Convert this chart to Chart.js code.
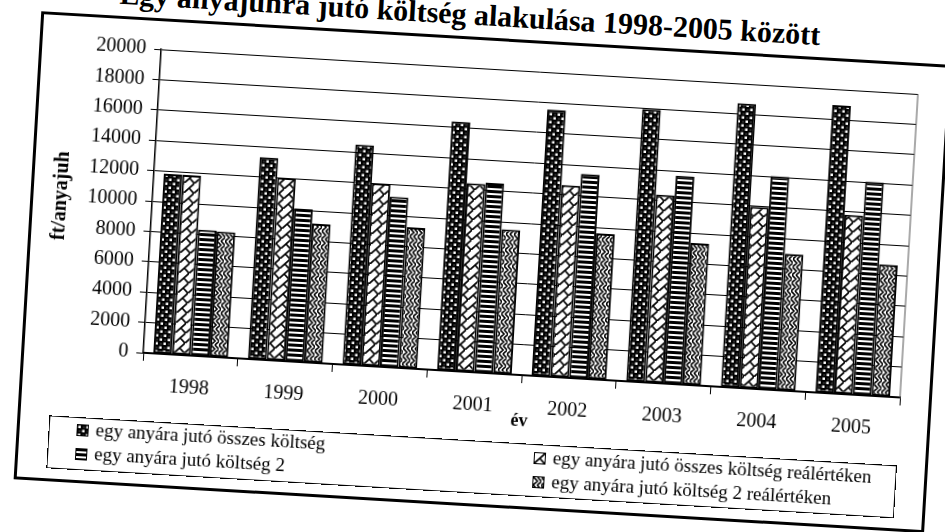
<!DOCTYPE html>
<html>
<head>
<meta charset="utf-8">
<script src="https://cdn.jsdelivr.net/npm/chart.js@4.4.1/dist/chart.umd.min.js"></script>
<style>
    html, body { margin: 0; padding: 0; background: #fff; overflow: hidden; }
    #page {
        position: relative; width: 945px; height: 532px;
        transform: rotate(3.38deg); transform-origin: 472px 266px;
        font-family: "Liberation Serif", "DejaVu Serif", serif;
    }
    #frame {
        position: absolute; left: 27px; top: 37px; width: 912px; height: 469px;
        border: 3px solid #000; box-sizing: border-box;
    }
    #title {
        position: absolute; right: 139px; top: -2px; height: 34px; line-height: 34px;
        font-size: 30px; font-weight: bold; color: #000; white-space: nowrap;
    }
    #chart { position: absolute; left: 0; top: 0; }
    #legend {
        position: absolute; left: 59px; top: 440px; width: 849px; height: 53px;
        border: 1px solid #000; box-sizing: border-box; background: #fff;
    }
    .item { position: absolute; height: 20px; line-height: 20px; font-size: 19px; color: #000; white-space: nowrap; }
    .sw {
        display: inline-block; width: 10px; height: 10px; border: 1.5px solid #000;
        margin-right: 7px; vertical-align: -1px;
    }
</style>
</head>
<body>
<div id="page">
    <div id="frame"></div>
    <div id="title">Egy anyajuhra jutó költség alakulása 1998-2005 között</div>
    <canvas id="chart" width="945" height="532"></canvas>
    <div id="legend"></div>
</div>
<script>
const years = ['1998', '1999', '2000', '2001', '2002', '2003', '2004', '2005'];
const osszes = [11850, 13300, 14500, 16400, 17550, 17950, 18700, 18950];
const osszesReal = [11850, 12040, 12040, 12400, 12650, 12380, 11950, 11800];
const koltseg2 = [8300, 10070, 11220, 12500, 13450, 13700, 14050, 14050];
const koltseg2Real = [8250, 9150, 9270, 9500, 9600, 9350, 9000, 8670];
const seriesNames = [
    'egy anyára jutó összes költség',
    'egy anyára jutó összes költség reálértéken',
    'egy anyára jutó költség 2',
    'egy anyára jutó költség 2 reálértéken'
];

const FONT = '"Liberation Serif", "DejaVu Serif", serif';

// small black & white tiles, like the old printer hatches
function tile(kind) {
    const c = document.createElement('canvas');
    const g = c.getContext('2d');
    if (kind === 'dots') {
        c.width = 8; c.height = 8;
        g.fillStyle = '#000'; g.fillRect(0, 0, 8, 8);
        g.fillStyle = '#fff';
        g.fillRect(0.5, 0.5, 2.5, 2.5); g.fillRect(4.5, 4.5, 2.5, 2.5);
        g.fillStyle = '#999';
        g.fillRect(5.5, 1.5, 1, 1); g.fillRect(1.5, 5.5, 1, 1);
    } else if (kind === 'diag') {
        c.width = 10; c.height = 10;
        g.fillStyle = '#fff'; g.fillRect(0, 0, 10, 10);
        g.strokeStyle = '#000'; g.lineWidth = 1.7;
        g.beginPath();
        g.moveTo(-1, 11); g.lineTo(11, -1);
        g.moveTo(5, 5); g.lineTo(10, 10);
        g.stroke();
    } else if (kind === 'horiz') {
        c.width = 6; c.height = 5;
        g.fillStyle = '#000'; g.fillRect(0, 0, 6, 5);
        g.fillStyle = '#fff'; g.fillRect(0, 2, 6, 2);
    } else {
        c.width = 8; c.height = 8;
        g.fillStyle = '#fff'; g.fillRect(0, 0, 8, 8);
        g.strokeStyle = '#000'; g.lineWidth = 1.6;
        g.beginPath();
        g.moveTo(0, 0); g.lineTo(4, 4); g.lineTo(0, 8);
        g.moveTo(4, 0); g.lineTo(8, 4); g.lineTo(4, 8);
        g.stroke();
    }
    return c;
}

const kinds = ['dots', 'diag', 'horiz', 'zig'];
const tiles = kinds.map(tile);
const ctx = document.getElementById('chart').getContext('2d');
const patterns = tiles.map(t => ctx.createPattern(t, 'repeat'));

// legend, two columns like in the original
const legend = document.getElementById('legend');
const legendPos = [[27, 1], [485, 2], [27, 25], [485, 26]];
[0, 1, 2, 3].forEach((s, i) => {
    const d = document.createElement('div');
    d.className = 'item';
    d.style.left = legendPos[i][0] + 'px';
    d.style.top = legendPos[i][1] + 'px';
    const sw = document.createElement('span');
    sw.className = 'sw';
    sw.style.backgroundImage = 'url(' + tiles[s].toDataURL() + ')';
    d.appendChild(sw);
    d.appendChild(document.createTextNode(seriesNames[s]));
    legend.appendChild(d);
});

const plotBorder = {
    id: 'plotBorder',
    afterDraw(chart) {
        const a = chart.chartArea;
        const c = chart.ctx;
        c.save();
        c.strokeStyle = '#555';
        c.lineWidth = 1;
        c.beginPath();
        c.moveTo(a.right, a.top);
        c.lineTo(a.right, a.bottom);
        c.stroke();
        c.restore();
    }
};

const values = [osszes, osszesReal, koltseg2, koltseg2Real];

new Chart(ctx, {
    type: 'bar',
    data: {
        labels: years,
        datasets: values.map((v, i) => ({
            label: seriesNames[i],
            data: v,
            backgroundColor: patterns[i],
            borderColor: '#000',
            borderWidth: 2,
            borderSkipped: false,
            categoryPercentage: 0.79,
            barPercentage: 1.0
        }))
    },
    options: {
        responsive: false,
        animation: false,
        layout: { padding: { left: 46, right: 38, top: 68, bottom: 100 } },
        plugins: {
            legend: { display: false },
            tooltip: { enabled: false }
        },
        scales: {
            x: {
                afterFit: (scale) => { scale.height = 60; },
                grid: { drawOnChartArea: false, color: '#000', tickLength: 8, offset: true },
                border: { color: '#000', width: 1.5 },
                ticks: { color: '#000', padding: 13, font: { family: FONT, size: 20 } },
                title: {
                    display: true, text: 'év', color: '#000',
                    font: { family: FONT, size: 18, weight: 'bold' },
                    padding: { top: 0, bottom: 3 }
                }
            },
            y: {
                min: 0,
                max: 20000,
                afterFit: (scale) => { scale.width = 103; },
                grid: { color: '#000', lineWidth: 1, tickLength: 7 },
                border: { color: '#000', width: 1.5 },
                ticks: {
                    stepSize: 2000, color: '#000', padding: 8,
                    font: { family: FONT, size: 20 },
                    callback: (value) => String(value)
                },
                title: {
                    display: true, text: 'ft/anyajuh', color: '#000',
                    font: { family: FONT, size: 20, weight: 'bold' },
                    padding: { top: 0, bottom: 0 }
                }
            }
        }
    },
    plugins: [plotBorder]
});
</script>
</body>
</html>
